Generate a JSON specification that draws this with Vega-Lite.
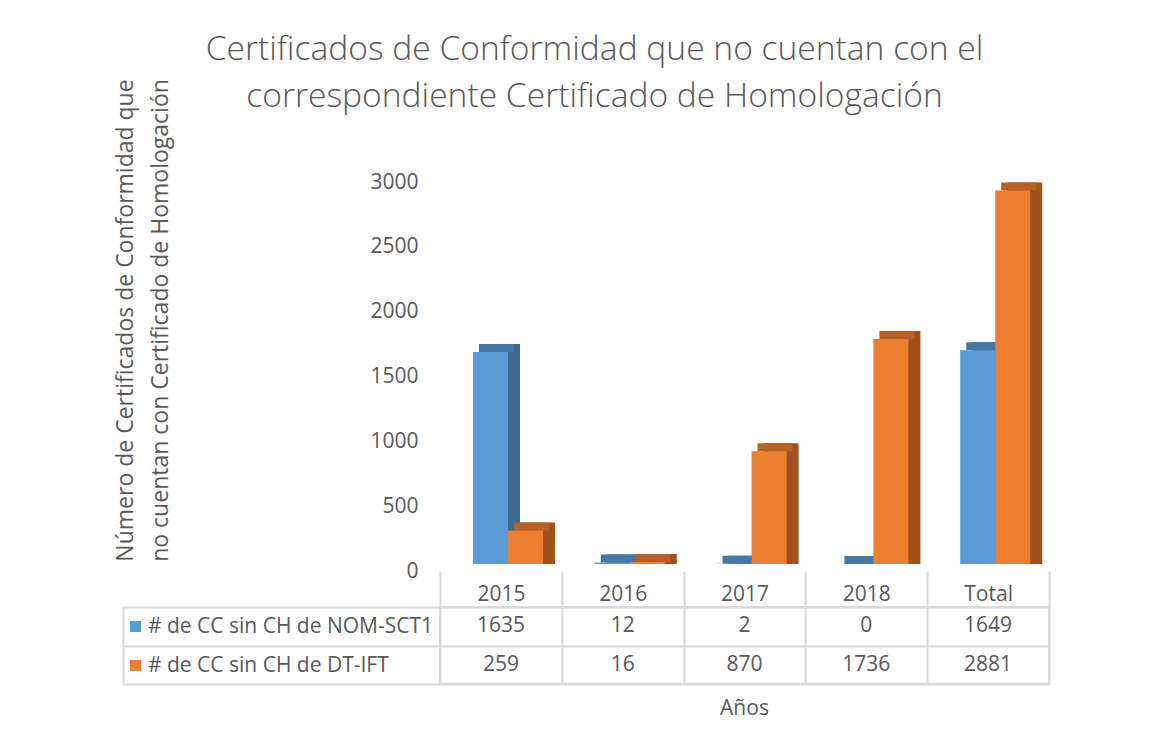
{
  "$schema": "https://vega.github.io/schema/vega-lite/v6.json",
  "autosize": {"type": "pad"},
  "padding": {"left": 114, "top": 33, "right": 0, "bottom": 0},
  "background": "white",
  "bounds": "flush",
  "spacing": 36,
  "datasets": {
    "d": [
      {"year": "2015", "series": "# de CC sin CH de NOM-SCT1", "value": 1635},
      {"year": "2016", "series": "# de CC sin CH de NOM-SCT1", "value": 12},
      {"year": "2017", "series": "# de CC sin CH de NOM-SCT1", "value": 2},
      {"year": "2018", "series": "# de CC sin CH de NOM-SCT1", "value": 0},
      {"year": "Total", "series": "# de CC sin CH de NOM-SCT1", "value": 1649},
      {"year": "2015", "series": "# de CC sin CH de DT-IFT", "value": 259},
      {"year": "2016", "series": "# de CC sin CH de DT-IFT", "value": 16},
      {"year": "2017", "series": "# de CC sin CH de DT-IFT", "value": 870},
      {"year": "2018", "series": "# de CC sin CH de DT-IFT", "value": 1736},
      {"year": "Total", "series": "# de CC sin CH de DT-IFT", "value": 2881}
    ]
  },
  "data": {"name": "d"},
  "title": {
    "text": ["Certificados de Conformidad que no cuentan con el", "correspondiente Certificado de Homologación"],
    "anchor": "middle",
    "frame": "group",
    "dx": -150,
    "offset": -69,
    "baseline": "bottom",
    "fontSize": 33.6,
    "font": "Open Sans",
    "fontWeight": 300,
    "color": "#595959",
    "lineHeight": 47
  },
  "vconcat": [
    {
      "width": 609,
      "height": 389,
      "view": {"stroke": null},
      "encoding": {
        "x": {
          "field": "year", "type": "nominal",
          "scale": {"domain": ["2015", "2016", "2017", "2018", "Total"], "paddingInner": 0, "paddingOuter": 0},
          "axis": null
        },
        "y": {
          "field": "value", "type": "quantitative",
          "scale": {"domain": [0, 3000], "nice": false, "zero": true},
          "axis": {
            "values": [0, 500, 1000, 1500, 2000, 2500, 3000],
            "format": "d",
            "labelFont": "Open Sans", "labelFontSize": 21, "labelColor": "#595959", "labelPadding": 22,
            "ticks": false, "domain": false, "grid": false,
            "title": ["Número de Certificados de Conformidad que", "no cuentan con Certificado de Homologación"],
            "titleFont": "Open Sans", "titleFontSize": 23, "titleFontWeight": "normal", "titleColor": "#595959",
            "titleLineHeight": 35, "titleAngle": -90, "titleAlign": "center", "titleBaseline": "middle",
            "titleX": -315, "titleY": 138
          }
        }
      },
      "layer": [
        {
          "transform": [{"filter": "datum.series === '# de CC sin CH de NOM-SCT1'"}],
          "mark": {"type": "bar", "width": 35, "xOffset": 1.6, "yOffset": -15, "y2Offset": -7, "color": "#3E6A93"},
          "encoding": {"y2": {"datum": 0}}
        },
        {
          "transform": [{"filter": "datum.series === '# de CC sin CH de DT-IFT'"}],
          "mark": {"type": "bar", "width": 35, "xOffset": 36.6, "yOffset": -15, "y2Offset": -7, "color": "#9F521E"},
          "encoding": {"y2": {"datum": 0}}
        },
        {
          "transform": [{"filter": "datum.series === '# de CC sin CH de NOM-SCT1'"}],
          "mark": {"type": "bar", "width": 35, "xOffset": -4.4, "yOffset": -15, "y2Offset": -7, "color": "#4777A6"},
          "encoding": {"y2": {"field": "value"}}
        },
        {
          "transform": [{"filter": "datum.series === '# de CC sin CH de DT-IFT'"}],
          "mark": {"type": "bar", "width": 35, "xOffset": 30.6, "yOffset": -15, "y2Offset": -7, "color": "#B65F26"},
          "encoding": {"y2": {"field": "value"}}
        },
        {
          "transform": [{"filter": "datum.series === '# de CC sin CH de NOM-SCT1'"}],
          "mark": {"type": "bar", "width": 35, "xOffset": -10.4, "yOffset": -7, "y2Offset": -7},
          "encoding": {
            "y2": {"datum": 0},
            "color": {
              "field": "series", "type": "nominal",
              "scale": {"domain": ["# de CC sin CH de NOM-SCT1", "# de CC sin CH de DT-IFT"], "range": ["#5B9BD5", "#ED7D31"]},
              "legend": {
                "orient": "none", "legendX": -315, "legendY": 434, "title": null,
                "symbolType": "square", "symbolSize": 121, "symbolStrokeWidth": 0, "symbolOpacity": 1,
                "labelFont": "Open Sans", "labelFontSize": 21, "labelColor": "#595959", "labelOffset": 2,
                "labelLimit": 500, "rowPadding": 17, "padding": 0
              }
            }
          }
        },
        {
          "transform": [{"filter": "datum.series === '# de CC sin CH de DT-IFT'"}],
          "mark": {"type": "bar", "width": 35, "xOffset": 24.6, "yOffset": -7, "y2Offset": -7},
          "encoding": {
            "y2": {"datum": 0},
            "color": {"field": "series", "type": "nominal"}
          }
        }
      ]
    },
    {
      "width": 609,
      "height": 77,
      "view": {"stroke": "#d9d9d9", "strokeWidth": 2},
      "title": {"text": "Años", "orient": "bottom", "anchor": "middle", "font": "Open Sans", "fontSize": 21, "fontWeight": "normal", "color": "#595959", "offset": 13},
      "mark": {"type": "text", "font": "Open Sans", "fontSize": 21, "color": "#595959"},
      "encoding": {
        "x": {
          "field": "year", "type": "nominal",
          "scale": {"domain": ["2015", "2016", "2017", "2018", "Total"], "paddingInner": 0, "paddingOuter": 0},
          "axis": {
            "orient": "top", "title": null, "labelAngle": 0,
            "labelFont": "Open Sans", "labelFontSize": 21, "labelColor": "#595959", "labelPadding": -33,
            "tickBand": "extent", "tickSize": 36, "tickColor": "#d9d9d9", "tickWidth": 2,
            "domain": false, "grid": true, "gridColor": "#d9d9d9", "gridWidth": 2
          }
        },
        "y": {
          "field": "series", "type": "nominal",
          "scale": {"domain": ["# de CC sin CH de NOM-SCT1", "# de CC sin CH de DT-IFT"], "paddingInner": 0, "paddingOuter": 0},
          "axis": {
            "title": null, "labels": false, "offset": 317,
            "domain": true, "domainColor": "#d9d9d9", "domainWidth": 2,
            "ticks": true, "tickBand": "extent", "tickSize": -926, "tickColor": "#d9d9d9", "tickWidth": 2,
            "grid": false
          }
        },
        "text": {"field": "value", "type": "quantitative", "format": "d"}
      }
    }
  ]
}
